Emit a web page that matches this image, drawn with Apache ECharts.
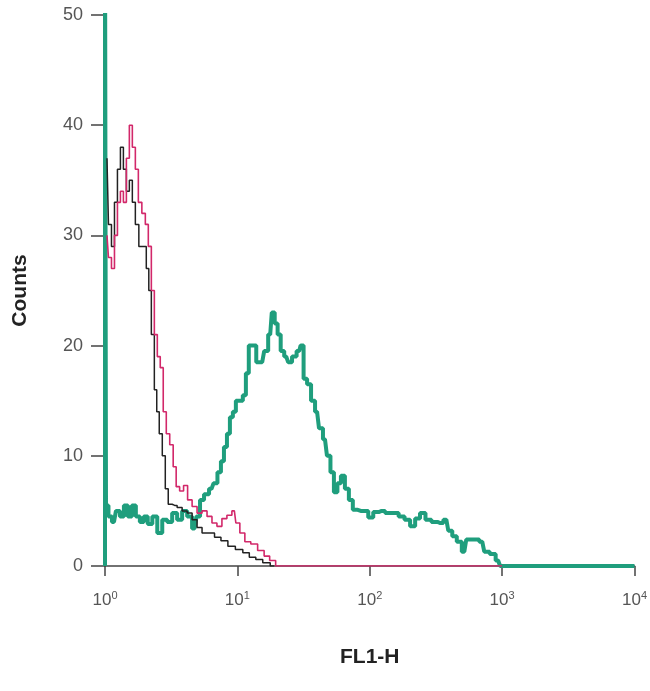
<!DOCTYPE html>
<html><head><meta charset="utf-8">
<script src="https://cdn.jsdelivr.net/npm/echarts@6/dist/echarts.min.js"></script>
<style>html,body{margin:0;padding:0;background:#fff}#c{width:650px;height:691px}</style>
</head><body><div id="c"></div>
<script>
// FL1-H values and counts
var blackX = [1.035,1.09,1.149,1.21,1.274,1.342,1.413,1.489,1.567,1.652,1.74,1.865,1.998,2.105,2.18,2.30,2.42,2.50,2.64,2.78,2.93,3.08,3.36,3.66,4.00,4.36,4.75,5.18,5.65,6.38,7.08,7.98,9.01,10.35,11.68,12.97,14.64,16.52,18.98];
var blackY = [37,31,29,33,36,38,36,34,35,33,31,29,29,27,25,21,16,14,12,10,7,5.6,5.5,5.3,5,4.8,4.2,3.5,3,3,2.6,2.3,1.8,1.5,1.2,0.8,0.6,0.3,0];

var pinkX = [1.035,1.09,1.149,1.21,1.274,1.342,1.413,1.489,1.567,1.652,1.74,1.834,1.965,2.07,2.18,2.30,2.42,2.55,2.68,2.83,2.98,3.19,3.36,3.54,3.79,4.06,4.36,4.75,5.18,5.65,6.16,6.71,7.32,7.98,8.71,9.49,10.0,10.9,11.9,13.4,15.1,16.8,18.3,20.7,1000];
var pinkY = [30,28,27,30,33,34,33,37,40,38,36,33,32,31,29,25,21,19,18,14,12,11,9,7.2,6.8,7.3,6,5.4,4.8,5,4.5,3.9,3.6,4.3,4.6,5,3.9,3,2.2,2,1.4,0.9,0.5,0,0];

var tealX = [1,1,1.035,1.09,1.169,1.252,1.342,1.438,1.541,1.652,1.771,1.898,2.03,2.18,2.38,2.59,2.83,3.08,3.36,3.66,4.00,4.36,4.75,5.09,5.36,5.85,6.38,6.83,7.32,7.71,8.13,8.56,9.01,9.49,10.0,10.7,11.3,11.9,12.5,13.4,14.4,15.4,16.5,17.7,18.7,19.6,20.7,21.8,23.4,25.0,26.8,29.3,30.8,32.5,34.8,37.3,40.0,42.8,45.9,49.2,51.8,55.5,58.5,62.7,67.2,72.0,77.1,85.5,93.3,101.8,111,123,139,157,174,193,211,230,250,278,308,342,379,406,435,475,518,555,638,708,759,856,933,1000,10000];
var tealY = [0,60,5.5,4.5,4,5,4.5,5.5,4.5,5.5,4.5,4,4.5,3.8,4.5,3,4.2,4,4.8,4.2,5,4.5,3.4,4.5,6,6.5,7,7.5,8.5,9.5,10.8,12,13.5,14,15,15,15.5,17.5,20,20,18.5,18.5,19.5,21,23,22,21,19.5,19,18.5,19,19.5,20,17,16.5,15,14,12.5,11.5,10,8.5,6.7,7.5,8.2,7,6,5.1,5,5,4.4,4.9,5,4.8,4.8,4.5,4.2,3.6,4.3,4.8,4.2,4,3.9,4.2,3.2,2.7,2.2,1.3,2.4,2.4,2.2,1.3,1.1,0.5,0,0];

var yTicks = [0,10,20,30,40,50];
var xTickExps = [0,1,2,3,4];

function zip(a,b){return a.map(function(v,i){return [v,b[i]];});}

var font = "'Liberation Sans Narrow','Liberation Sans',Arial,sans-serif";
var chart = echarts.init(document.getElementById('c'), null, {renderer:'canvas'});
chart.setOption({
  animation:false,
  backgroundColor:'#fff',
  grid:{left:105,right:13,top:15,bottom:125},
  xAxis:{
    type:'log', logBase:10, min:Math.pow(10,xTickExps[0]), max:Math.pow(10,xTickExps[xTickExps.length-1]),
    name:'FL1-H', nameLocation:'middle', nameGap:81,
    nameTextStyle:{fontFamily:'Liberation Sans, Arial, sans-serif',fontWeight:'bold',fontSize:21,color:'#222'},
    axisLine:{lineStyle:{color:'#444',width:1.5}},
    axisTick:{length:10,lineStyle:{color:'#444',width:1.5}},
    minorTick:{show:false},
    splitLine:{show:false},
    axisLabel:{margin:24,color:'#555',fontFamily:font,showMaxLabel:true,
      formatter:function(v){return '{b|10}{s|'+Math.round(Math.log10(v))+'}';},
      rich:{b:{fontSize:17,fontFamily:font,color:'#555'},s:{fontSize:11,fontFamily:font,color:'#555',verticalAlign:'top',padding:[0,0,9,0]}}}
  },
  yAxis:{
    type:'value', min:yTicks[0], max:yTicks[yTicks.length-1], interval:10,
    name:'Counts', nameLocation:'middle', nameGap:74,
    nameTextStyle:{fontFamily:'Liberation Sans, Arial, sans-serif',fontWeight:'bold',fontSize:21,color:'#222'},
    axisLine:{lineStyle:{color:'#444',width:1.5}},
    axisTick:{length:14,lineStyle:{color:'#444',width:1.5}},
    splitLine:{show:false},
    axisLabel:{margin:22,fontSize:18,color:'#555',fontFamily:font}
  },
  series:[
    {type:'line',step:'middle',data:zip(tealX,tealY),symbol:'none',clip:true,z:2,
     lineStyle:{color:'#1f9e7d',width:4}},
    {type:'line',step:'middle',data:zip(blackX,blackY),symbol:'none',clip:true,z:3,
     lineStyle:{color:'#222',width:1.5}},
    {type:'line',step:'middle',data:zip(pinkX,pinkY),symbol:'none',clip:true,z:4,
     lineStyle:{color:'#d2286a',width:1.6}}
  ]
});
</script></body></html>
